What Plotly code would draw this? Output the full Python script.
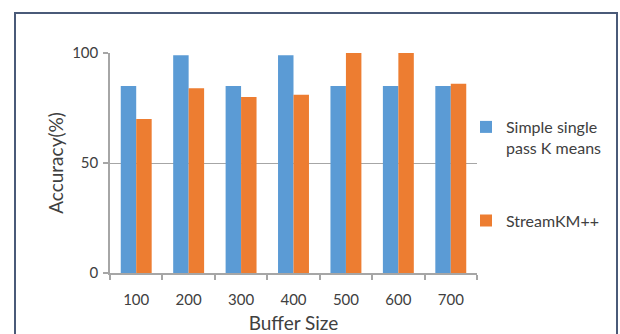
import plotly.graph_objects as go

categories = ["100", "200", "300", "400", "500", "600", "700"]
simple_single_pass = [85, 99, 85, 99, 85, 85, 85]
streamkm = [70, 84, 80, 81, 100, 100, 86]
series_names = ["Simple single<br>pass K means", "StreamKM++"]

FONT = "Lato"
W, H = 620, 334
# target plot area in screen pixels
PX0, PX1, PY0, PY1 = 110, 477, 53, 273
L, T = PX0, PY0
R = W - PX1
B = H - PY1
pw, ph = PX1 - PX0, PY1 - PY0

fig = go.Figure()
fig.add_trace(go.Bar(x=categories, y=simple_single_pass, name=series_names[0],
                     marker=dict(color="#5B9BD5", line=dict(width=0)),
                     legendgroup="a"))
fig.add_trace(go.Bar(x=categories, y=streamkm, name=series_names[1],
                     marker=dict(color="#ED7D31", line=dict(width=0)),
                     legendgroup="b"))

def sx(px):
    return (px - PX0) / pw

def sy(py):
    return (PY1 - py) / ph

fig.update_layout(
    width=W, height=H,
    margin=dict(l=L, r=R, t=T, b=B, pad=0, autoexpand=False),
    paper_bgcolor="white", plot_bgcolor="white",
    barmode="group", bargap=0.41, bargroupgap=0,
    font=dict(family=FONT, size=15, color="#404040"),
    showlegend=True,
    legend=dict(x=sx(466), y=sy(110), xanchor="left", yanchor="top", valign="top",
                traceorder="grouped", tracegroupgap=49,
                font=dict(family=FONT, size=16, color="#404040"),
                bgcolor="rgba(0,0,0,0)", itemwidth=30),
    xaxis=dict(type="category", showgrid=False, showline=True, linecolor="#a6a6a6", linewidth=1.5,
               ticks="outside", tickson="boundaries", ticklen=5, tickcolor="#a6a6a6", tickwidth=1.5,
               ticklabelstandoff=12, automargin=False,
               tickfont=dict(family=FONT, size=15, color="#404040"),
               title=dict(text="Buffer Size", font=dict(family=FONT, size=19, color="#404040"), standoff=12),
               fixedrange=True),
    yaxis=dict(range=[0, 100], tickvals=[0, 50, 100], showgrid=True, gridcolor="#a6a6a6", gridwidth=1,
               showline=True, linecolor="#a6a6a6", linewidth=1.5,
               ticks="outside", ticklen=5, tickcolor="#a6a6a6", tickwidth=1.5,
               ticklabelstandoff=2, automargin=True,
               tickfont=dict(family=FONT, size=15, color="#404040"),
               title=dict(text="Accuracy(%)", font=dict(family=FONT, size=19, color="#404040"), standoff=3),
               zeroline=False, fixedrange=True),
    shapes=[dict(type="rect", xref="paper", yref="paper",
                 x0=sx(15), x1=sx(617),
                 y0=sy(345), y1=sy(13),
                 line=dict(color="#4a5a78", width=2), fillcolor="rgba(0,0,0,0)", layer="below")],
)

fig.write_html("out.html",
               config={"displayModeBar": False},
               post_script="document.body.style.margin='0';document.body.style.overflow='hidden';")
